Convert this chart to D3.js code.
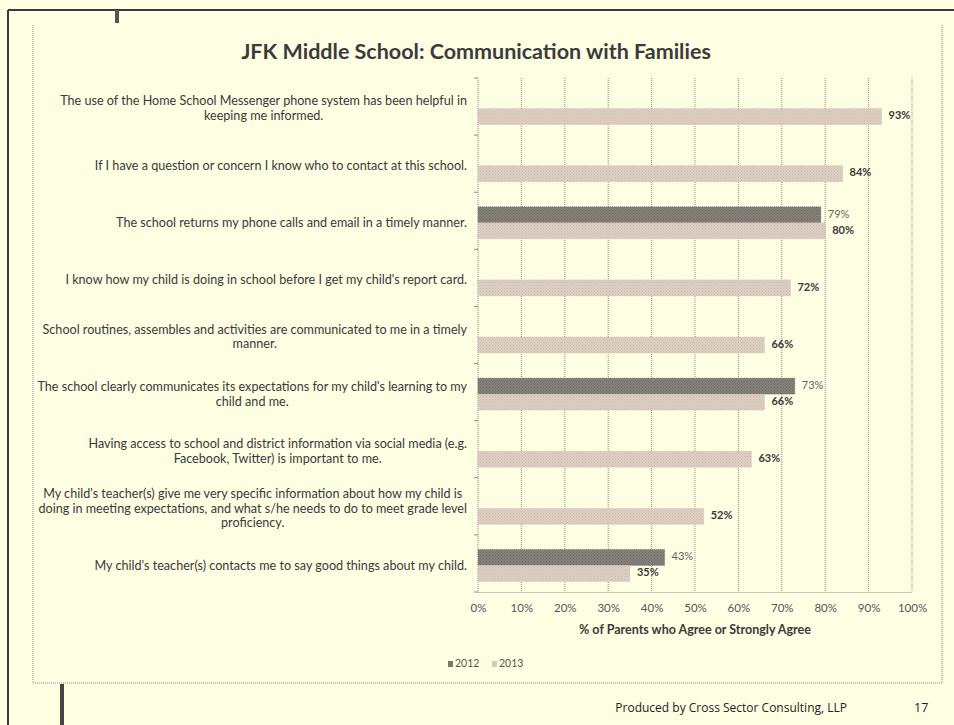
<!DOCTYPE html>
<html>
<head>
<meta charset="utf-8">
<script src="https://cdn.jsdelivr.net/npm/d3@7"></script>
<style>
  html, body { margin: 0; padding: 0; background: #fefee3; }
  svg { display: block; }
</style>
</head>
<body>
<svg id="chart" width="954" height="725"></svg>
<script>
// Survey statements (top to bottom) and percentage agreeing by year
const statements = [
  ["The use of the Home School Messenger phone system has been helpful in", "keeping me informed."],
  ["If I have a question or concern I know who to contact at this school."],
  ["The school returns my phone calls and email in a timely manner."],
  ["I know how my child is doing in school before I get my child's report card."],
  ["School routines, assembles and activities are communicated to me in a timely", "manner."],
  ["The school clearly communicates its expectations for my child's learning to my", "child and me."],
  ["Having access to school and district information via social media (e.g.", "Facebook, Twitter) is important to me."],
  ["My child's teacher(s) give me very specific information about how my child is", "doing in meeting expectations, and what s/he needs to do to meet grade level", "proficiency."],
  ["My child's teacher(s) contacts me to say good things about my child."]
];
const years = ["2012", "2013"];
const values2012 = [null, null, 79, null, null, 73, null, null, 43];
const values2013 = [93, 84, 80, 72, 66, 66, 63, 52, 35];
const xTicks = [0, 10, 20, 30, 40, 50, 60, 70, 80, 90, 100];

const svg = d3.select("#chart");
const font = "Lato, 'Noto Sans', sans-serif";

// Fill patterns that give the bars their speckled look
const defs = svg.append("defs");
function speckle(id, base, dot) {
  const p = defs.append("pattern").attr("id", id)
    .attr("width", 3).attr("height", 3).attr("patternUnits", "userSpaceOnUse");
  p.append("rect").attr("width", 3).attr("height", 3).attr("fill", base);
  p.append("rect").attr("x", 0).attr("y", 0).attr("width", 1).attr("height", 1).attr("fill", dot);
  p.append("rect").attr("x", 1.5).attr("y", 1.5).attr("width", 1).attr("height", 1).attr("fill", dot);
}
speckle("fill2012", "#858079", "#6f6a64");
speckle("fill2013", "#ddd0c2", "#c9bcae");
const fills = { "2012": "url(#fill2012)", "2013": "url(#fill2013)" };
const legendFills = { "2012": "#7a7670", "2013": "#d6c9bb" };

// Page frame
svg.append("line").attr("x1", 8).attr("x2", 954).attr("y1", 10).attr("y2", 10)
  .attr("stroke", "#3a3a3a").attr("stroke-width", 2);
svg.append("line").attr("x1", 8).attr("x2", 8).attr("y1", 10).attr("y2", 725)
  .attr("stroke", "#3a3a3a").attr("stroke-width", 2);
svg.append("rect").attr("x", 115).attr("y", 10).attr("width", 4).attr("height", 13).attr("fill", "#555");
svg.append("rect").attr("x", 60).attr("y", 684).attr("width", 4).attr("height", 41).attr("fill", "#444");

// Chart area border (dotted)
const frame = svg.append("g").attr("fill", "none").attr("stroke", "#8a8a80")
  .attr("stroke-width", 1).attr("stroke-dasharray", "1,1");
frame.append("line").attr("x1", 33).attr("x2", 33).attr("y1", 25).attr("y2", 683);
frame.append("line").attr("x1", 942).attr("x2", 942).attr("y1", 25).attr("y2", 683);
frame.append("line").attr("x1", 33).attr("x2", 942).attr("y1", 683).attr("y2", 683);

// Title
svg.append("text").attr("x", 476).attr("y", 59).attr("text-anchor", "middle")
  .attr("font-family", font).attr("font-weight", "bold").attr("font-size", 21.5)
  .attr("fill", "#3b3b3b").text("JFK Middle School:  Communication with Families");

// Scales
const plot = { left: 478, right: 912, top: 78, bottom: 592 };
const x = d3.scaleLinear().domain([0, 100]).range([plot.left, plot.right]);
const y = d3.scaleBand().domain(d3.range(statements.length)).range([plot.top, plot.bottom]);
const groupH = 32;
const ySub = d3.scaleBand().domain(years).range([0, groupH]);

// Vertical gridlines
svg.append("g").selectAll("line").data(xTicks.slice(1)).join("line")
  .attr("x1", d => x(d)).attr("x2", d => x(d))
  .attr("y1", plot.top).attr("y2", plot.bottom)
  .attr("stroke", "#8c8c84").attr("stroke-dasharray", "1,1");

// X axis
const xAxis = svg.append("g").attr("transform", `translate(0,${plot.bottom})`)
  .call(d3.axisBottom(x).tickValues(xTicks).tickFormat(d => d + "%").tickSize(0).tickPadding(12));
xAxis.select(".domain").attr("stroke", "#8c8c84").attr("stroke-dasharray", "1,1");
xAxis.selectAll("text").attr("font-family", font).attr("font-size", 11.5).attr("fill", "#555");

// Y axis line with category ticks
const yAxis = svg.append("g").attr("transform", `translate(${plot.left},0)`);
yAxis.append("line").attr("x1", 0).attr("x2", 0).attr("y1", plot.top).attr("y2", plot.bottom)
  .attr("stroke", "#8c8c84").attr("stroke-dasharray", "1,1");
yAxis.selectAll("line.tick").data(d3.range(statements.length + 1)).join("line")
  .attr("class", "tick")
  .attr("x1", -4).attr("x2", 0)
  .attr("y1", i => plot.top + i * y.step()).attr("y2", i => plot.top + i * y.step())
  .attr("stroke", "#8c8c84");

// Category labels: lines centered within a right-aligned block
const labelRight = 467;
const lineH = 14.5;
statements.forEach((lines, i) => {
  const cy = y(i) + y.bandwidth() / 2 + 3;
  const g = svg.append("g");
  const t = g.selectAll("text").data(lines).join("text")
    .attr("font-family", font).attr("font-size", 12.6).attr("fill", "#3a3a3a")
    .attr("text-anchor", "middle").attr("dominant-baseline", "middle")
    .attr("y", (d, k) => cy + (k - (lines.length - 1) / 2) * lineH)
    .text(d => d);
  const maxW = d3.max(t.nodes(), n => n.getComputedTextLength());
  t.attr("x", labelRight - maxW / 2);
});

// Bars
const series = { "2012": values2012, "2013": values2013 };
years.forEach(yr => {
  const data = series[yr].map((v, i) => ({ i, v })).filter(d => d.v != null);
  const groupTop = i => y(i) + (y.bandwidth() - groupH) / 2 + 2;
  svg.append("g").selectAll("rect").data(data).join("rect")
    .attr("x", x(0))
    .attr("y", d => groupTop(d.i) + ySub(yr))
    .attr("width", d => x(d.v) - x(0))
    .attr("height", ySub.bandwidth())
    .attr("fill", fills[yr])
    .attr("stroke", yr === "2012" ? "#6a655f" : "#c4b7a9")
    .attr("stroke-width", 0.6).attr("stroke-dasharray", "1,1");
  svg.append("g").selectAll("text").data(data).join("text")
    .attr("x", d => x(d.v) + 7)
    .attr("y", d => groupTop(d.i) + ySub(yr) + ySub.bandwidth() / 2)
    .attr("dominant-baseline", "middle")
    .attr("font-family", font).attr("font-size", 11)
    .attr("font-weight", yr === "2013" ? "bold" : "normal")
    .attr("fill", yr === "2013" ? "#3a3a3a" : "#666")
    .text(d => d.v + "%");
});

// X axis title
svg.append("text").attr("x", (plot.left + plot.right) / 2).attr("y", 634)
  .attr("text-anchor", "middle").attr("font-family", font).attr("font-weight", "bold")
  .attr("font-size", 12.5).attr("fill", "#3a3a3a")
  .text("% of Parents who Agree or Strongly Agree");

// Legend
const legend = svg.append("g").attr("transform", "translate(448,664)");
const legendX = { "2012": 0, "2013": 44 };
years.forEach(yr => {
  const lg = legend.append("g").attr("transform", `translate(${legendX[yr]},0)`);
  lg.append("rect").attr("x", 0).attr("y", -3).attr("width", 5).attr("height", 6)
    .attr("fill", legendFills[yr]);
  lg.append("text").attr("x", 7).attr("y", 0).attr("dominant-baseline", "middle")
    .attr("font-family", font).attr("font-size", 10.5).attr("fill", "#555").text(yr);
});

// Footer
svg.append("text").attr("x", 847).attr("y", 712).attr("text-anchor", "end")
  .attr("font-family", "'Open Sans', Lato, sans-serif").attr("font-size", 12).attr("fill", "#222")
  .text("Produced by Cross Sector Consulting, LLP");
svg.append("text").attr("x", 914).attr("y", 712)
  .attr("font-family", "'Open Sans', Lato, sans-serif").attr("font-size", 12.5).attr("fill", "#222")
  .text("17");
</script>
</body>
</html>
